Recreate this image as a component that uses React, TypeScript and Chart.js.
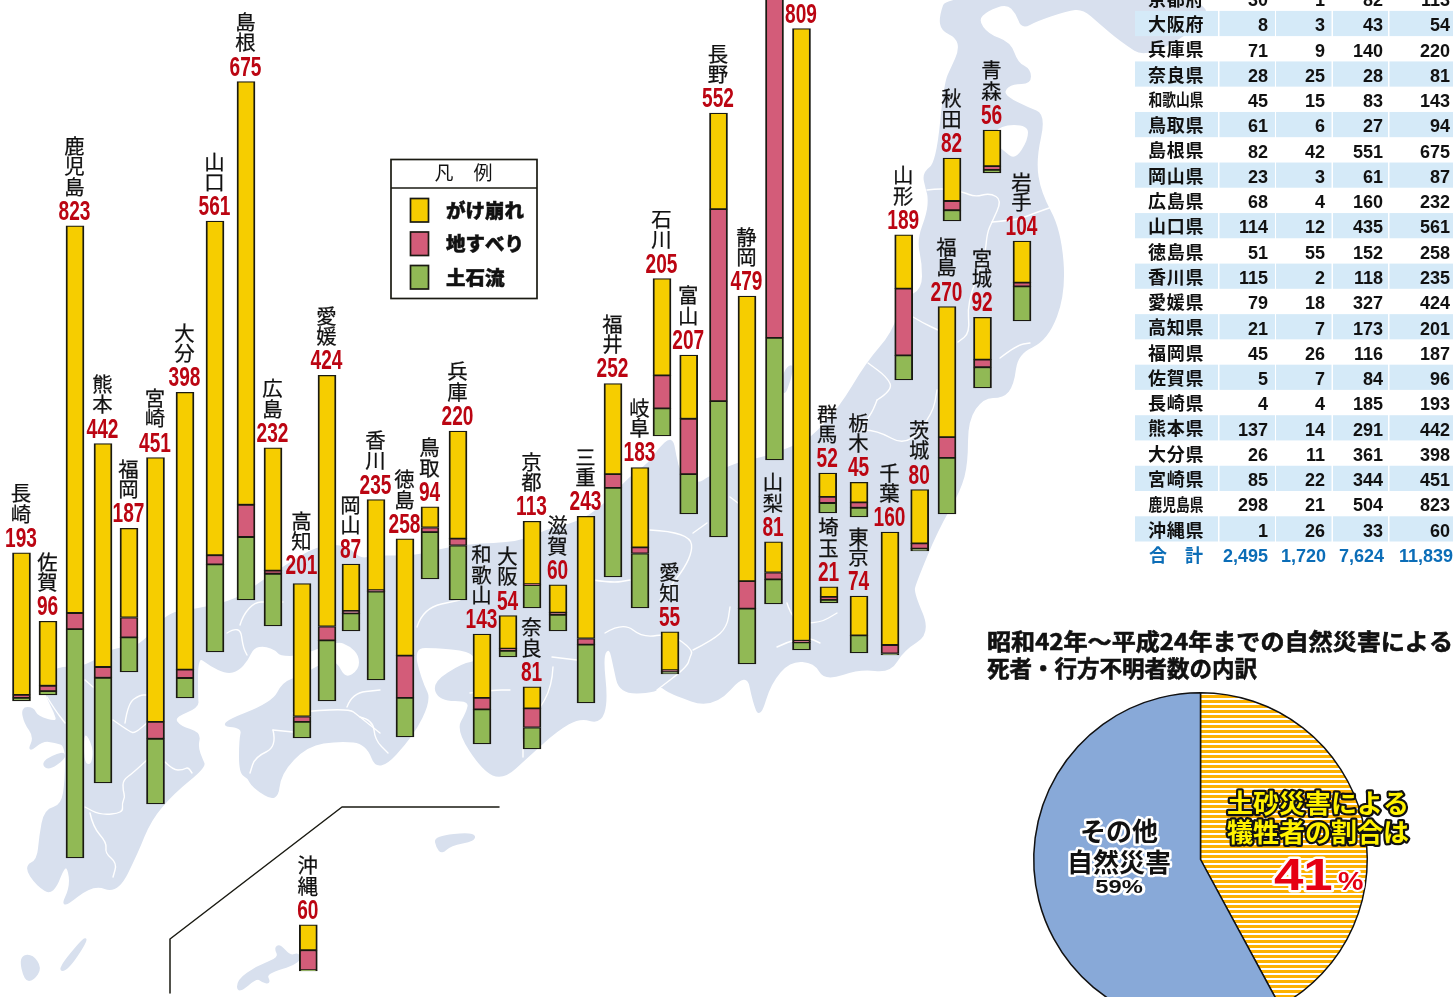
import React, { useEffect, useRef } from "react";
import { Chart, registerables } from "chart.js";

Chart.register(...registerables);

const JP = '"Noto Sans CJK JP", "Noto Sans CJK SC", sans-serif';
const NUM = '"Liberation Sans", Arial, sans-serif';

// ---------- data (table order) ----------
const prefectures = ["青森県","岩手県","宮城県","秋田県","山形県","福島県","茨城県","栃木県","群馬県","埼玉県","千葉県","東京都","神奈川県","新潟県","富山県","石川県","福井県","山梨県","長野県","岐阜県","静岡県","愛知県","三重県","滋賀県","京都府","大阪府","兵庫県","奈良県","和歌山県","鳥取県","島根県","岡山県","広島県","山口県","徳島県","香川県","愛媛県","高知県","福岡県","佐賀県","長崎県","熊本県","大分県","宮崎県","鹿児島県","沖縄県"];
const debrisFlow = [4,45,27,14,32,73,3,12,13,4,2,23,10,159,52,36,116,32,177,71,72,3,76,21,30,8,71,28,45,61,82,23,68,114,51,115,79,21,45,5,4,137,26,85,298,1];
const landslide = [5,5,10,12,87,27,7,7,8,4,11,0,2,750,72,43,18,9,250,8,36,2,8,3,1,3,9,25,15,6,42,3,4,12,55,2,18,7,26,7,4,14,11,22,21,26];
const cliffFailure = [47,54,55,56,70,170,70,26,31,13,147,51,797,550,83,126,118,40,125,104,371,50,159,36,82,43,140,28,83,27,551,61,160,435,152,118,327,173,116,84,185,291,361,344,504,33];
const tableTotals = ["2,495", "1,720", "7,624", "11,839"];
const totalLabel = ["合", "計"];
const seriesNames = ["がけ崩れ", "地すべり", "土石流"];
const legendTitle = ["凡", "例"];
const pieShares = [42.1, 57.9];
const pieTitle = ["昭和42年～平成24年までの自然災害による", "死者・行方不明者数の内訳"];

// ---------- layout (where each column stands on the map) ----------
const barCenters = [992,1022,982.5,952,903.7,947,919.7,859,827.7,829,890,859,801.5,774.5,688.7,662,613,773.5,718.5,640,747,670,586,558,532,508,458,532,482,430,246,351,273,215,405,376,327,302,129,48,21.5,103,185,155.5,75,308.3];
const barFloors = [173,321,388,221,380,514,551,517,513,603,655,653,650,460,514,436,577,604,537,608,664,674,703,631,608,657,600,749,744,579,600,631,626,652,737,680,701,738,672,695,701,783,698,804,858,971];
const PX_PER_UNIT = 0.768;
const H = 997;
const W = 1453;
const floorUnits = barFloors.map((p) => (H - p) / PX_PER_UNIT);

const YELLOW = "#f6cd00";
const PINK = "#d35c79";
const GREEN = "#91b955";
const MAP = "#d8e0ee";
const INK = "#1a1a12";

// ---------- map background (purely decorative) ----------
const mainland: number[][] = [[47,697],[43,682],[57,667],[85,668],[113,648],[140,648],[167,613],[197,610],[237,600],[260,583],[287,565],[317,547],[345,545],[360,560],[375,556],[413,557],[440,550],[467,545],[520,543],[547,530],[577,523],[603,507],[630,477],[650,463],[658,450],[672,437],[675,455],[680,475],[697,485],[710,477],[737,463],[765,458],[793,447],[810,440],[840,408],[867,363],[893,333],[903,300],[923,290],[923,263],[918,240],[928,213],[929,197],[927,190],[923,173],[937,163],[945,83],[952,68],[960,50],[957,37],[942,30],[940,17],[948,-6],[1240,-6],[1150,60],[1120,40],[1100,23],[1083,8],[1067,10],[1037,20],[1022,28],[1017,13],[1007,3],[987,10],[977,20],[988,35],[1010,43],[1017,63],[1030,70],[1030,83],[1013,83],[1003,90],[1007,98],[1027,108],[1045,115],[1035,160],[1040,193],[1060,230],[1065,293],[1047,340],[1017,353],[1013,385],[1003,397],[983,397],[967,420],[967,463],[960,490],[937,530],[915,583],[913,593],[930,633],[903,650],[890,672],[860,668],[825,680],[815,662],[790,660],[770,683],[760,717],[754,703],[747,670],[713,708],[670,693],[660,685],[655,692],[620,693],[614,665],[610,647],[602,655],[607,702],[600,723],[580,717],[557,730],[527,757],[503,779],[483,770],[457,730],[467,713],[470,700],[440,700],[433,683],[463,664],[478,662],[470,650],[433,647],[418,647],[415,657],[418,670],[423,685],[430,700],[413,735],[378,773],[367,743],[340,740],[307,745],[280,773],[277,802],[253,787],[248,777],[240,773],[240,740],[243,727],[217,725],[273,703],[283,683],[300,677],[317,667],[335,660],[345,680],[360,670],[360,655],[350,645],[337,640],[300,655],[280,655],[277,650],[265,645],[253,647],[247,660],[238,670],[227,673],[210,665],[197,655],[197,697],[198,707],[173,717],[180,727],[200,733],[197,747],[202,760],[205,767],[173,793],[150,820],[137,853],[117,893],[93,883],[60,910],[72,885],[66,860],[53,895],[37,885],[25,867],[38,860],[40,837],[45,810],[62,806],[66,780],[66,745],[55,742],[43,740],[28,752],[35,737],[25,723],[22,708],[33,708],[37,717],[58,723],[55,712]];
const islands: number[][][] = [
  [[20,957],[32,955],[41,968],[33,980],[25,980]],
  [[58,970],[85,937],[86,942],[67,970]],
  [[238,993],[238,980],[257,967],[280,958],[275,948],[280,945],[290,957],[299,953],[299,963],[265,973],[270,983],[263,982],[257,977]],
  [[435,837],[473,833],[475,840],[450,845],[442,853],[437,847]],
  [[783,373],[793,363],[790,380],[783,397]],
  [[42,762],[63,752],[65,758],[48,770]],
];
const seaPatches: number[][][] = [
  [[84,730],[93,747],[92,762],[88,765],[84,760]],
  [[990,140],[1000,125],[1028,125],[1028,140],[1015,160],[1003,150]],
];
const borders: number[][][] = [
  [[47,697],[55,710],[65,723]],[[85,680],[93,687]],[[113,720],[130,732],[135,733],[147,723]],[[125,723],[128,703],[140,695],[147,695]],
  [[147,760],[133,773],[123,780],[123,790],[125,797],[122,803],[123,813],[100,815],[85,807]],
  [[90,813],[93,827],[107,843],[105,853],[117,863],[113,877]],[[165,762],[173,770],[183,770],[188,767],[192,773]],
  [[227,633],[240,625],[243,647],[247,655]],[[240,625],[243,615],[255,602],[267,602],[283,602]],
  [[273,730],[293,732]],[[273,730],[277,747],[255,757],[250,773]],
  [[293,713],[347,707],[360,717],[380,733]],[[347,707],[352,693],[380,690]],[[360,717],[373,720],[375,740],[388,753]],
  [[417,627],[423,608],[460,600]],[[470,693],[493,690],[510,690]],[[552,657],[577,660]],
  [[553,667],[552,687],[537,713],[523,733],[523,757]],[[593,580],[613,583],[630,580]],
  [[605,633],[623,622],[643,638],[670,633],[693,650],[690,657],[687,667],[657,690]],[[693,650],[713,640],[727,627],[730,607]],
  [[650,530],[690,532],[693,557],[660,600]],[[693,533],[707,523]],
  [[730,497],[738,503]],[[877,400],[893,390],[887,377],[868,363]],
  [[877,400],[870,420],[850,430],[877,430],[907,447],[933,413],[937,390]],
  [[787,603],[793,623],[820,623],[837,613]],[[777,647],[787,642],[807,637],[820,643]],
  [[927,190],[942,188],[963,192],[975,197],[990,193],[1002,200],[992,222],[987,233],[985,257],[967,303],[970,333],[958,342]],
  [[992,222],[1017,220],[1035,213],[1052,207]],[[913,317],[923,323],[938,330]],[[1000,358],[1017,345],[1030,343]],
];
const insetFrame: number[][] = [[170,993],[170,939],[342,807],[499,807]];

function poly(ctx: CanvasRenderingContext2D, pts: number[][]) {
  ctx.beginPath();
  pts.forEach((p, i) => (i ? ctx.lineTo(p[0], p[1]) : ctx.moveTo(p[0], p[1])));
}

// rounded outline: corners become curves through the edge midpoints
function smooth(ctx: CanvasRenderingContext2D, pts: number[][], closed: boolean) {
  ctx.beginPath();
  const n = pts.length;
  if (closed) {
    ctx.moveTo((pts[n - 1][0] + pts[0][0]) / 2, (pts[n - 1][1] + pts[0][1]) / 2);
    for (let i = 0; i < n; i++) {
      const q = pts[(i + 1) % n];
      ctx.quadraticCurveTo(pts[i][0], pts[i][1], (pts[i][0] + q[0]) / 2, (pts[i][1] + q[1]) / 2);
    }
    ctx.closePath();
  } else {
    ctx.moveTo(pts[0][0], pts[0][1]);
    for (let i = 1; i < n - 1; i++) {
      ctx.quadraticCurveTo(pts[i][0], pts[i][1], (pts[i][0] + pts[i + 1][0]) / 2, (pts[i][1] + pts[i + 1][1]) / 2);
    }
    ctx.lineTo(pts[n - 1][0], pts[n - 1][1]);
  }
}

function rowCenter(i: number) {
  return 24.3 + (i - 25) * 25.27;
}

const mapPlugin = {
  id: "mapBackdrop",
  beforeDatasetsDraw(chart: any) {
    const ctx: CanvasRenderingContext2D = chart.ctx;
    ctx.save();
    ctx.lineJoin = "round";
    ctx.lineCap = "round";
    ctx.fillStyle = MAP;
    ctx.strokeStyle = MAP;
    ctx.lineWidth = 2;
    smooth(ctx, mainland, true); ctx.fill(); ctx.stroke();
    islands.forEach((p) => { smooth(ctx, p, true); ctx.fill(); ctx.stroke(); });
    ctx.fillStyle = "#fff";
    seaPatches.forEach((p) => { smooth(ctx, p, true); ctx.fill(); });
    ctx.strokeStyle = "#fff";
    ctx.lineWidth = 1.4;
    borders.forEach((p) => { smooth(ctx, p, false); ctx.stroke(); });
    ctx.strokeStyle = INK;
    ctx.lineWidth = 1.5;
    poly(ctx, insetFrame); ctx.stroke();

    // table bands sit on top of the map
    ctx.fillStyle = "#d5eaf8";
    prefectures.forEach((_, i) => {
      if (i % 2 === 0) return;
      const c = rowCenter(i) - 0.8;
      if (c < -20) return;
      [[1135, 1218], [1219.5, 1275], [1276, 1331.5], [1333, 1388], [1389.5, 1453]].forEach(([a, b]) =>
        ctx.fillRect(a, c - 12.6, b - a, 25.2));
    });
    ctx.restore();
  },
};

function stretched(ctx: CanvasRenderingContext2D, text: string, x: number, y: number, sx: number, mode: "fill" | "stroke" = "fill") {
  ctx.save();
  ctx.translate(x, y);
  ctx.scale(sx, 1);
  if (mode === "fill") ctx.fillText(text, 0, 0);
  else ctx.strokeText(text, 0, 0);
  ctx.restore();
}

const labelPlugin = {
  id: "columnLabels",
  afterDatasetsDraw(chart: any) {
    const ctx: CanvasRenderingContext2D = chart.ctx;
    const top = chart.getDatasetMeta(2).data;
    ctx.save();
    prefectures.forEach((name, i) => {
      const el = top[i];
      const x = el.x - 0.5;
      const total = debrisFlow[i] + landslide[i] + cliffFailure[i];
      const base = el.y - (name === "高知県" ? 9.5 : 6);
      ctx.textAlign = "center";
      ctx.textBaseline = "alphabetic";
      ctx.fillStyle = "#bb0512";
      ctx.font = `bold 28.5px ${NUM}`;
      stretched(ctx, String(total), x, base, 0.67);
      const short = name.slice(0, -1);
      ctx.fillStyle = "#111";
      ctx.strokeStyle = "#111";
      ctx.lineWidth = 0.25;
      ctx.font = `400 20.4px ${JP}`;
      ctx.textBaseline = "middle";
      const chars = Array.from(short);
      chars.forEach((c, k) => {
        const cy = base - 33 - (chars.length - 1 - k) * 20.3;
        ctx.fillText(c, x, cy);
        ctx.strokeText(c, x, cy);
      });
    });
    ctx.restore();
    drawTable(ctx);
    drawLegend(ctx, chart);
  },
};

function drawTable(ctx: CanvasRenderingContext2D) {
  ctx.save();
  const rights = [1268, 1325, 1383, 1450];
  prefectures.forEach((name, i) => {
    const y = rowCenter(i);
    if (y < -20) return;
    ctx.fillStyle = "#111";
    ctx.textBaseline = "middle";
    ctx.textAlign = "center";
    ctx.font = `bold 18px ${JP}`;
    const chars = Array.from(name);
    if (chars.length === 3) {
      chars.forEach((c, k) => ctx.fillText(c, 1157 + k * 18.8, y));
    } else {
      ctx.font = `bold 16.5px ${JP}`;
      stretched(ctx, name, 1176, y, 55 / ctx.measureText(name).width);
    }
    ctx.textAlign = "right";
    ctx.textBaseline = "alphabetic";
    ctx.font = `bold 18px ${NUM}`;
    const row = [debrisFlow[i], landslide[i], cliffFailure[i], debrisFlow[i] + landslide[i] + cliffFailure[i]];
    row.forEach((v, k) => ctx.fillText(String(v), rights[k], y + 7));
  });
  const y = rowCenter(prefectures.length);
  ctx.fillStyle = "#0b6db7";
  ctx.textBaseline = "middle";
  ctx.textAlign = "center";
  ctx.font = `bold 18px ${JP}`;
  ctx.fillText(totalLabel[0], 1158, y);
  ctx.fillText(totalLabel[1], 1194, y);
  ctx.textAlign = "right";
  ctx.textBaseline = "alphabetic";
  ctx.font = `bold 18px ${NUM}`;
  [1268, 1326, 1384, 1453].forEach((r, k) => ctx.fillText(tableTotals[k], r, y + 7));
  ctx.restore();
}

function drawLegend(ctx: CanvasRenderingContext2D, chart: any) {
  ctx.save();
  ctx.fillStyle = "#fff";
  ctx.fillRect(391, 159.5, 146, 139);
  ctx.strokeStyle = INK;
  ctx.lineWidth = 1.7;
  ctx.strokeRect(391, 159.5, 146, 139);
  ctx.beginPath(); ctx.moveTo(391, 188); ctx.lineTo(537, 188); ctx.stroke();
  ctx.fillStyle = "#111";
  ctx.textAlign = "center";
  ctx.textBaseline = "middle";
  ctx.font = `400 19px ${JP}`;
  ctx.fillText(legendTitle[0], 444, 173);
  ctx.fillText(legendTitle[1], 483, 173);
  // swatches follow the datasets, top of the column first
  const order = [2, 1, 0];
  order.forEach((d, k) => {
    const y = 198.5 + k * 33.5;
    ctx.fillStyle = chart.data.datasets[d].backgroundColor;
    ctx.fillRect(410.5, y, 18, 23.5);
    ctx.lineWidth = 1.7;
    ctx.strokeRect(410.5, y, 18, 23.5);
    ctx.fillStyle = "#111";
    ctx.strokeStyle = "#111";
    ctx.textAlign = "left";
    ctx.font = `900 19.5px ${JP}`;
    ctx.fillText(chart.data.datasets[d].label, 446, y + 12);
    ctx.lineWidth = 0.5;
    ctx.strokeText(chart.data.datasets[d].label, 446, y + 12);
    ctx.strokeStyle = INK;
  });
  ctx.restore();
}

const pieOverlay = {
  id: "pieText",
  afterDraw(chart: any) {
    const ctx: CanvasRenderingContext2D = chart.ctx;
    const ox = -980, oy = -625; // page to canvas
    ctx.save();
    ctx.translate(ox, oy);
    ctx.fillStyle = "#111";
    ctx.strokeStyle = "#111";
    ctx.lineWidth = 0.6;
    ctx.textAlign = "left";
    ctx.textBaseline = "middle";
    ctx.font = `bold 22.5px ${JP}`;
    const fit = 466 / ctx.measureText(pieTitle[0]).width;
    stretched(ctx, pieTitle[0], 987, 641, fit);
    stretched(ctx, pieTitle[0], 987, 641, fit, "stroke");
    ctx.fillText(pieTitle[1], 987, 668);
    ctx.strokeText(pieTitle[1], 987, 668);

    ctx.lineJoin = "round";
    ctx.textAlign = "center";
    const outlined = (t: string, x: number, y: number, font: string, fill: string, edge: string, lw: number, sx = 1) => {
      ctx.font = font;
      ctx.strokeStyle = edge;
      ctx.lineWidth = lw;
      ctx.fillStyle = fill;
      stretched(ctx, t, x, y, sx, "stroke");
      stretched(ctx, t, x, y, sx);
    };
    const b26 = `bold 26px ${JP}`;
    outlined("その他", 1119, 831, b26, "#111", "#fff", 5);
    outlined("自然災害", 1119, 862, b26, "#111", "#fff", 5);
    outlined("59%", 1119, 888, `bold 19px ${NUM}`, "#111", "#fff", 5, 1.25);
    outlined("土砂災害による", 1318, 803, b26, "#fff200", "#111", 4.5, 1);
    outlined("犠牲者の割合は", 1318, 832, b26, "#fff200", "#111", 4.5, 1);
    ctx.textBaseline = "alphabetic";
    ctx.textAlign = "left";
    outlined("41", 1274, 890, `bold 44px ${NUM}`, "#e60012", "#fff", 5, 1.2);
    outlined("%", 1338, 890, `bold 26px ${NUM}`, "#e60012", "#fff", 4, 1.1);
    ctx.restore();
  },
};

function stripePattern(ctx: CanvasRenderingContext2D) {
  const c = document.createElement("canvas");
  c.width = 4;
  c.height = 5;
  const p = c.getContext("2d")!;
  p.fillStyle = "#fff";
  p.fillRect(0, 0, 4, 5);
  p.fillStyle = "#fdb100";
  p.fillRect(0, 0, 4, 3);
  return ctx.createPattern(c, "repeat")!;
}

export default function App() {
  const mapRef = useRef<HTMLCanvasElement>(null);
  const pieRef = useRef<HTMLCanvasElement>(null);

  useEffect(() => {
    const stack = [debrisFlow, landslide, cliffFailure];
    const colours = [GREEN, PINK, YELLOW];
    const names = [seriesNames[2], seriesNames[1], seriesNames[0]];
    const datasets = stack.map((values, d) => ({
      label: names[d],
      backgroundColor: colours[d],
      borderColor: INK,
      borderWidth: { top: 1.25, bottom: 1.25, left: 1.9, right: 1.9 },
      borderSkipped: false as const,
      barThickness: 18,
      grouped: false,
      data: values.map((v, i) => {
        let lo = floorUnits[i];
        for (let k = 0; k < d; k++) lo += stack[k][i];
        return { x: barCenters[i], y: [lo, lo + v] };
      }),
    }));
    const map = new Chart(mapRef.current!, {
      type: "bar",
      data: { datasets } as any,
      plugins: [mapPlugin, labelPlugin],
      options: {
        responsive: false,
        animation: false,
        layout: { padding: 0 },
        plugins: { legend: { display: false }, tooltip: { enabled: false }, title: { display: false } },
        scales: {
          x: { type: "linear", min: 0, max: W, offset: false, display: false },
          y: { type: "linear", min: 0, max: H / PX_PER_UNIT, display: false },
        },
      },
    } as any);

    const pieCtx = pieRef.current!.getContext("2d")!;
    const pie = new Chart(pieRef.current!, {
      type: "pie",
      data: {
        labels: ["土砂災害", "その他自然災害"],
        datasets: [{
          data: pieShares,
          backgroundColor: [stripePattern(pieCtx), "#88a9d8"],
          borderColor: "#111",
          borderWidth: 1.5,
        }],
      },
      plugins: [pieOverlay],
      options: {
        responsive: false,
        animation: false,
        layout: { padding: { top: 67, bottom: 18, left: 0, right: 32 } },
        plugins: { legend: { display: false }, tooltip: { enabled: false } },
      },
    } as any);
    return () => {
      map.destroy();
      pie.destroy();
    };
  }, []);

  return (
    <div style={{ position: "fixed", left: 0, top: 0, width: W, height: H, overflow: "hidden", background: "#fff" }}>
      <canvas ref={mapRef} width={W} height={H} style={{ position: "absolute", left: 0, top: 0, width: W, height: H }} />
      <canvas ref={pieRef} width={473} height={420} style={{ position: "absolute", left: 980, top: 625, width: 473, height: 420 }} />
    </div>
  );
}
